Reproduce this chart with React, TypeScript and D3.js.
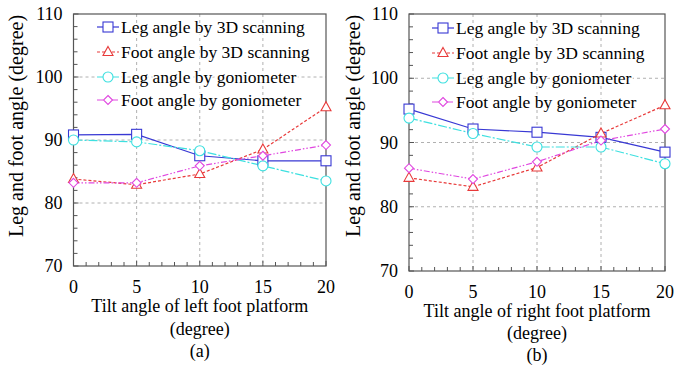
import React, { useEffect, useRef } from "react";
import * as d3 from "d3";

const tiltAngles = [0, 5, 10, 15, 20];

const leftLeg3D = [90.8, 90.9, 87.5, 86.7, 86.7];
const leftFoot3D = [83.8, 82.9, 84.6, 88.5, 95.2];
const leftLegGonio = [90.0, 89.7, 88.3, 85.9, 83.5];
const leftFootGonio = [83.2, 83.2, 85.9, 87.5, 89.2];

const rightLeg3D = [95.2, 92.1, 91.6, 90.8, 88.5];
const rightFoot3D = [84.5, 83.1, 86.1, 91.4, 95.8];
const rightLegGonio = [93.8, 91.4, 89.3, 89.3, 86.7];
const rightFootGonio = [86.0, 84.3, 87.0, 90.3, 92.1];

const seriesNames = [
  "Leg angle by 3D scanning",
  "Foot angle by 3D scanning",
  "Leg angle by goniometer",
  "Foot angle by goniometer",
];

const yTicks = [70, 80, 90, 100, 110];
const xTicks = [0, 5, 10, 15, 20];

const styles = [
  { color: "#3838d4", dash: "", marker: "square" },
  { color: "#e83a3a", dash: "3,2", marker: "triangle" },
  { color: "#3ee0e0", dash: "9,2,2,2", marker: "circle" },
  { color: "#e048e0", dash: "6,2,1.5,2,1.5,2", marker: "diamond" },
];

const FONT = "Liberation Serif";

interface Panel {
  x0: number;
  x1: number;
  y0: number;
  y1: number;
  series: number[][];
  xTitle: string;
  label: string;
  tickY: number;
  titleY: number;
  degY: number;
  labelY: number;
  legX: number;
  legRows: number[];
  yLabelX: number;
}

const panels: Panel[] = [
  {
    x0: 73.5, x1: 326, y0: 14, y1: 266,
    series: [leftLeg3D, leftFoot3D, leftLegGonio, leftFootGonio],
    xTitle: "Tilt angle of left foot platform",
    label: "(a)",
    tickY: 293, titleY: 312, degY: 335, labelY: 357,
    legX: 97, legRows: [27, 52, 77, 100], yLabelX: 23,
  },
  {
    x0: 409, x1: 665, y0: 14, y1: 271,
    series: [rightLeg3D, rightFoot3D, rightLegGonio, rightFootGonio],
    xTitle: "Tilt angle of right foot platform",
    label: "(b)",
    tickY: 298, titleY: 317, degY: 339, labelY: 361,
    legX: 432, legRows: [28, 53, 78, 102], yLabelX: 360,
  },
];

const marker = (g: d3.Selection<SVGGElement, unknown, null, undefined>, kind: string, cx: number, cy: number, color: string) => {
  const common = (s: d3.Selection<any, unknown, null, undefined>) =>
    s.attr("fill", "white").attr("stroke", color).attr("stroke-width", 1.1);
  if (kind === "square") {
    common(g.append("rect").attr("x", cx - 5).attr("y", cy - 5).attr("width", 10).attr("height", 10));
  } else if (kind === "circle") {
    common(g.append("circle").attr("cx", cx).attr("cy", cy).attr("r", 5));
  } else if (kind === "triangle") {
    common(g.append("path").attr("d", `M${cx},${cy - 5.5}L${cx + 5},${cy + 3.5}L${cx - 5},${cy + 3.5}Z`));
  } else {
    common(g.append("path").attr("d", `M${cx},${cy - 4.5}L${cx + 4.5},${cy}L${cx},${cy + 4.5}L${cx - 4.5},${cy}Z`));
  }
};

const App: React.FC = () => {
  const ref = useRef<SVGSVGElement | null>(null);

  useEffect(() => {
    if (!ref.current) return;
    const svg = d3.select(ref.current);
    svg.selectAll("*").remove();

    panels.forEach((p) => {
      const g = svg.append("g");
      const x = d3.scaleLinear().domain([0, 20]).range([p.x0, p.x1]);
      const y = d3.scaleLinear().domain([70, 110]).range([p.y1, p.y0]);

      // grid
      [80, 90, 100].forEach((v) => {
        g.append("line")
          .attr("x1", p.x0).attr("x2", p.x1)
          .attr("y1", y(v)).attr("y2", y(v))
          .attr("stroke", "#b0b0b0").attr("stroke-dasharray", "3,3");
      });
      [5, 10, 15].forEach((v) => {
        g.append("line")
          .attr("x1", x(v)).attr("x2", x(v))
          .attr("y1", p.y0).attr("y2", p.y1)
          .attr("stroke", "#b0b0b0").attr("stroke-dasharray", "3,3");
      });

      // ticks, major and minor, pointing inward
      d3.range(70, 111, 2).forEach((v) => {
        const len = v % 10 === 0 ? 5 : 4;
        g.append("line")
          .attr("x1", p.x0).attr("x2", p.x0 + len)
          .attr("y1", y(v)).attr("y2", y(v))
          .attr("stroke", "#555");
      });
      d3.range(0, 21, 1).forEach((v) => {
        const len = v % 5 === 0 ? 5 : 4;
        g.append("line")
          .attr("x1", x(v)).attr("x2", x(v))
          .attr("y1", p.y1).attr("y2", p.y1 - len)
          .attr("stroke", "#555");
      });

      g.append("rect")
        .attr("x", p.x0).attr("y", p.y0)
        .attr("width", p.x1 - p.x0).attr("height", p.y1 - p.y0)
        .attr("fill", "none").attr("stroke", "#555").attr("stroke-width", 1.2);

      // tick labels
      yTicks.forEach((v) => {
        g.append("text")
          .attr("x", p.x0 - 11).attr("y", y(v) + 6)
          .attr("text-anchor", "end")
          .attr("font-family", FONT).attr("font-size", 18)
          .text(v);
      });
      xTicks.forEach((v) => {
        g.append("text")
          .attr("x", x(v)).attr("y", p.tickY)
          .attr("text-anchor", "middle")
          .attr("font-family", FONT).attr("font-size", 18)
          .text(v);
      });

      const cx = (p.x0 + p.x1) / 2;
      g.append("text").attr("x", cx).attr("y", p.titleY).attr("text-anchor", "middle")
        .attr("font-family", FONT).attr("font-size", 18).text(p.xTitle);
      g.append("text").attr("x", cx).attr("y", p.degY).attr("text-anchor", "middle")
        .attr("font-family", FONT).attr("font-size", 18).text("(degree)");
      g.append("text").attr("x", cx).attr("y", p.labelY).attr("text-anchor", "middle")
        .attr("font-family", FONT).attr("font-size", 18).text(p.label);

      g.append("text")
        .attr("transform", `translate(${p.yLabelX},126) rotate(-90)`)
        .attr("text-anchor", "middle")
        .attr("font-family", FONT).attr("font-size", 20)
        .text("Leg and foot angle (degree)");

      // legend
      seriesNames.forEach((name, i) => {
        const st = styles[i];
        const ly = p.legRows[i];
        g.append("rect").attr("x", p.legX).attr("y", ly - 4).attr("width", 22).attr("height", 8).attr("fill", "white");
        g.append("line")
          .attr("x1", p.legX).attr("x2", p.legX + 22)
          .attr("y1", ly).attr("y2", ly)
          .attr("stroke", st.color).attr("stroke-width", 1.2)
          .attr("stroke-dasharray", st.dash || null);
        marker(g, st.marker, p.legX + 11, ly, st.color);
        g.append("text")
          .attr("x", p.legX + 24).attr("y", ly + 6)
          .attr("font-family", FONT).attr("font-size", 17.5)
          .attr("stroke", "white").attr("stroke-width", 3).attr("paint-order", "stroke")
          .text(name);
      });

      // series
      const line = d3.line<number>().x((_, i) => x(tiltAngles[i])).y((d) => y(d));
      p.series.forEach((vals, i) => {
        const st = styles[i];
        g.append("path")
          .attr("d", line(vals) || "")
          .attr("fill", "none")
          .attr("stroke", st.color).attr("stroke-width", 1.2)
          .attr("stroke-dasharray", st.dash || null);
      });
      p.series.forEach((vals, i) => {
        const st = styles[i];
        vals.forEach((v, j) => marker(g, st.marker, x(tiltAngles[j]), y(v), st.color));
      });
    });
  }, []);

  return <svg ref={ref} width={675} height={365} style={{ position: "absolute", left: 0, top: 0, background: "white" }} />;
};

export default App;
